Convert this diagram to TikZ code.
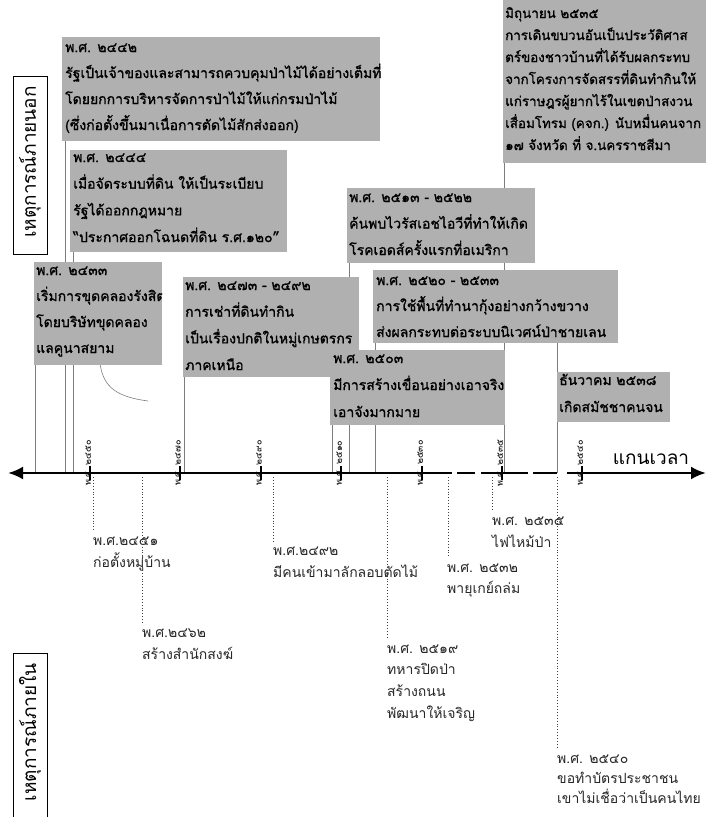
\documentclass[tikz,border=0pt]{standalone}
\usepackage{fontspec}
\newfontfamily\thai[Script=Thai]{Loma}
\newfontfamily\thaib[Script=Thai,FakeBold=1.2]{Loma}
\usetikzlibrary{arrows.meta}
\pgfdeclarelayer{background}
\pgfsetlayers{background,main}
\definecolor{boxgray}{RGB}{176,176,176}
\definecolor{linegray}{RGB}{125,125,125}
\begin{document}
\begin{tikzpicture}[x=1pt,y=-1pt,
  gbox/.style={fill=boxgray, draw=none, inner sep=0pt, anchor=north west},
  tl/.style={font=\thaib\fontsize{14}{16}\selectfont, anchor=base west, inner sep=0pt},
  tls/.style={font=\thaib\fontsize{13.4}{16}\selectfont, anchor=base west, inner sep=0pt},
  bl/.style={font=\thai\fontsize{14}{16}\selectfont, anchor=base west, inner sep=0pt, text=black!85},
  ticklab/.style={font=\thai\fontsize{9}{10}\selectfont, rotate=90, inner sep=0pt},
  vline/.style={draw=linegray, line width=0.6pt},
  dline/.style={draw=black!75, dotted, line width=0.9pt},
  labbox/.style={draw=black, line width=0.8pt, inner sep=0pt, anchor=north west},
  labtext/.style={font=\thai\fontsize{19}{21}\selectfont, rotate=90, anchor=east, inner sep=0pt},
  axisline/.style={line width=2.6pt},
  tickmark/.style={line width=1.6pt},
]
\useasboundingbox (0,0) rectangle (706,817);

% side labels
\node[labbox, minimum width=34pt, minimum height=178pt] (lbA) at (13,76) {};
\node[labtext] (lbAt) at (30,86) {เหตุการณ์ภายนอก};
\node[labbox, minimum width=34pt, minimum height=180pt] (lbB) at (13,653) {};
\node[labtext] (lbBt) at (30,663) {เหตุการณ์ภายใน};

% boxes
\node[gbox, minimum width=318pt, minimum height=104pt] (bA) at (62,37) {};
\node[gbox, minimum width=217pt, minimum height=102pt] (bB) at (70,150) {};
\node[gbox, minimum width=128pt, minimum height=103pt] (bC) at (34,262) {};
\node[gbox, minimum width=176pt, minimum height=100pt] (bD) at (183,277) {};
\node[gbox, minimum width=188pt, minimum height=75pt] (bE) at (347,188) {};
\node[gbox, minimum width=245pt, minimum height=73pt] (bF) at (373,270) {};
\node[gbox, minimum width=175pt, minimum height=75pt] (bG) at (330,350) {};
\node[gbox, minimum width=113pt, minimum height=50pt] (bH) at (557,372) {};
\node[gbox, minimum width=203pt, minimum height=163pt] (bI) at (503,0) {};

% box texts
\foreach \t [count=\i from 0] in {พ.ศ. ๒๔๔๒, รัฐเป็นเจ้าของและสามารถควบคุมป่าไม้ได้อย่างเต็มที่, โดยยกการบริหารจัดการป่าไม้ให้แก่กรมป่าไม้, (ซึ่งก่อตั้งขึ้นมาเนื่อการตัดไม้สักส่งออก)}
  \node[tl] (tA\i) at (65,{52+26*\i}) {\t};
\foreach \t [count=\i from 0] in {พ.ศ. ๒๔๔๔, เมื่อจัดระบบที่ดิน ให้เป็นระเบียบ, รัฐได้ออกกฎหมาย, “ประกาศออกโฉนดที่ดิน ร.ศ.๑๒๐”}
  \node[tl] (tB\i) at (73,{162+26.7*\i}) {\t};
\begin{scope}
\clip (34,262) rectangle (162,365);
\foreach \t [count=\i from 0] in {พ.ศ. ๒๔๓๓, เริ่มการขุดคลองรังสิต, โดยบริษัทขุดคลอง, แลคูนาสยาม}
  \node[tl] (tC\i) at (36,{275+26*\i}) {\t};
\end{scope}
\foreach \t [count=\i from 0] in {พ.ศ. ๒๔๗๓ - ๒๔๙๒, การเช่าที่ดินทำกิน, เป็นเรื่องปกติในหมู่เกษตรกร, ภาคเหนือ}
  \node[tl] (tD\i) at (185,{290+26.7*\i}) {\t};
\foreach \t [count=\i from 0] in {พ.ศ. ๒๕๑๓ - ๒๕๒๒, ค้นพบไวรัสเอชไอวีที่ทำให้เกิด, โรคเอดส์ครั้งแรกที่อเมริกา}
  \node[tl] (tE\i) at (349,{202+26.5*\i}) {\t};
\foreach \t [count=\i from 0] in {พ.ศ. ๒๕๒๐ - ๒๕๓๓, การใช้พื้นที่ทำนากุ้งอย่างกว้างขวาง, ส่งผลกระทบต่อระบบนิเวศน์ป่าชายเลน}
  \node[tl] (tF\i) at (376,{285+26*\i}) {\t};
\foreach \t [count=\i from 0] in {พ.ศ. ๒๕๐๓, มีการสร้างเขื่อนอย่างเอาจริง, เอาจังมากมาย}
  \node[tl] (tG\i) at (333,{363+27*\i}) {\t};
\foreach \t [count=\i from 0] in {ธันวาคม ๒๕๓๘, เกิดสมัชชาคนจน}
  \node[tl] (tH\i) at (559,{385+27*\i}) {\t};
\foreach \t [count=\i from 0] in {มิถุนายน ๒๕๓๕, การเดินขบวนอันเป็นประวัติศาส, ตร์ของชาวบ้านที่ได้รับผลกระทบ, จากโครงการจัดสรรที่ดินทำกินให้, แก่ราษฎรผู้ยากไร้ในเขตป่าสงวน, เสื่อมโทรม (คจก.) นับหมื่นคนจาก, ๑๗ จังหวัด ที่ จ.นครราชสีมา}
  \node[tls] (tI\i) at (505,{18+22*\i}) {\t};

% axis
\coordinate (axL) at (8,473);
\coordinate (axR) at (706,473);
\draw[axisline, {Latex[length=15pt,width=13pt]}-] (axL) -- (452,473);
\draw[axisline] (457,473) -- (475,473);
\draw[axisline] (481,473) -- (528,473);
\draw[axisline] (533,473) -- (557,473);
\draw[axisline, -{Latex[length=15pt,width=13pt]}] (567,473) -- (axR);
\node[font=\thai\fontsize{19}{21}\selectfont, anchor=center, inner sep=0pt] (axlab) at (651,459) {แกนเวลา};

% ticks
\foreach \x/\y [count=\i] in {90/๒๔๕๐, 180/๒๔๗๐, 261/๒๔๙๐, 341/๒๕๑๐, 422/๒๕๓๐, 502/๒๕๓๕, 582/๒๕๔๐} {
  \coordinate (tk\i) at (\x,473);
  \draw[tickmark] ([yshift=7pt]tk\i) -- ([yshift=-7pt]tk\i);
  \node[ticklab] (tkl\i) at (\x-2,463) {พ.ศ. \y};
}

% connectors from boxes to axis (behind)
\begin{pgfonlayer}{background}
\draw[vline] ([xshift=1pt]bC.south west) -- (35,473);
\draw[vline] ([xshift=3pt]bA.south west) -- (65,473);
\draw[vline] ([xshift=3pt]bB.south west) -- (73,473);
\draw[vline] ([xshift=1pt]bD.south west) -- (184,473);
\draw[vline] ([xshift=2pt]bG.south west) -- (332,473);
\draw[vline] ([xshift=2pt]bE.south west) -- (349,473);
\draw[vline] ([xshift=2pt]bF.south west) -- (375,473);
\draw[vline] ([xshift=1pt]bI.south west) -- (504,473);
\draw[vline] ([xshift=184pt]bF.south west) -- (557,473);
\coordinate (cv1) at (100,363);
\coordinate (cv2) at (148,401);
\draw[vline] (cv1) .. controls (103,388) and (118,397) .. (cv2);
\end{pgfonlayer}

% inner events (below the axis)
\foreach \t [count=\i from 0] in {พ.ศ.๒๔๕๑, ก่อตั้งหมู่บ้าน}
  \node[bl] (u1\i) at (93,{545+22*\i}) {\t};
\foreach \t [count=\i from 0] in {พ.ศ.๒๔๖๒, สร้างสำนักสงฆ์}
  \node[bl] (u2\i) at (142,{637+22*\i}) {\t};
\foreach \t [count=\i from 0] in {พ.ศ.๒๔๙๒, มีคนเข้ามาลักลอบตัดไม้}
  \node[bl] (u3\i) at (273,{555+22*\i}) {\t};
\foreach \t [count=\i from 0] in {พ.ศ. ๒๕๑๙, ทหารปิดป่า, สร้างถนน, พัฒนาให้เจริญ}
  \node[bl] (u4\i) at (387,{653+21.7*\i}) {\t};
\foreach \t [count=\i from 0] in {พ.ศ. ๒๕๓๒, พายุเกย์ถล่ม}
  \node[bl] (u5\i) at (447,{572+21*\i}) {\t};
\foreach \t [count=\i from 0] in {พ.ศ. ๒๕๓๕, ไฟไหม้ป่า}
  \node[bl] (u6\i) at (492,{525+22*\i}) {\t};
\foreach \t [count=\i from 0] in {พ.ศ. ๒๕๔๐, ขอทำบัตรประชาชน, เขาไม่เชื่อว่าเป็นคนไทย}
  \node[bl] (u7\i) at (557,{763+20*\i}) {\t};

\foreach \x/\n/\e in {93/1/532, 142/2/623, 273/3/542, 387/4/638, 448/5/558, 492/6/510, 557/7/748} {
  \coordinate (ev\n) at (\x,477);
  \draw[dline] (ev\n) -- (\x,\e);
}
\end{tikzpicture}
\end{document}
